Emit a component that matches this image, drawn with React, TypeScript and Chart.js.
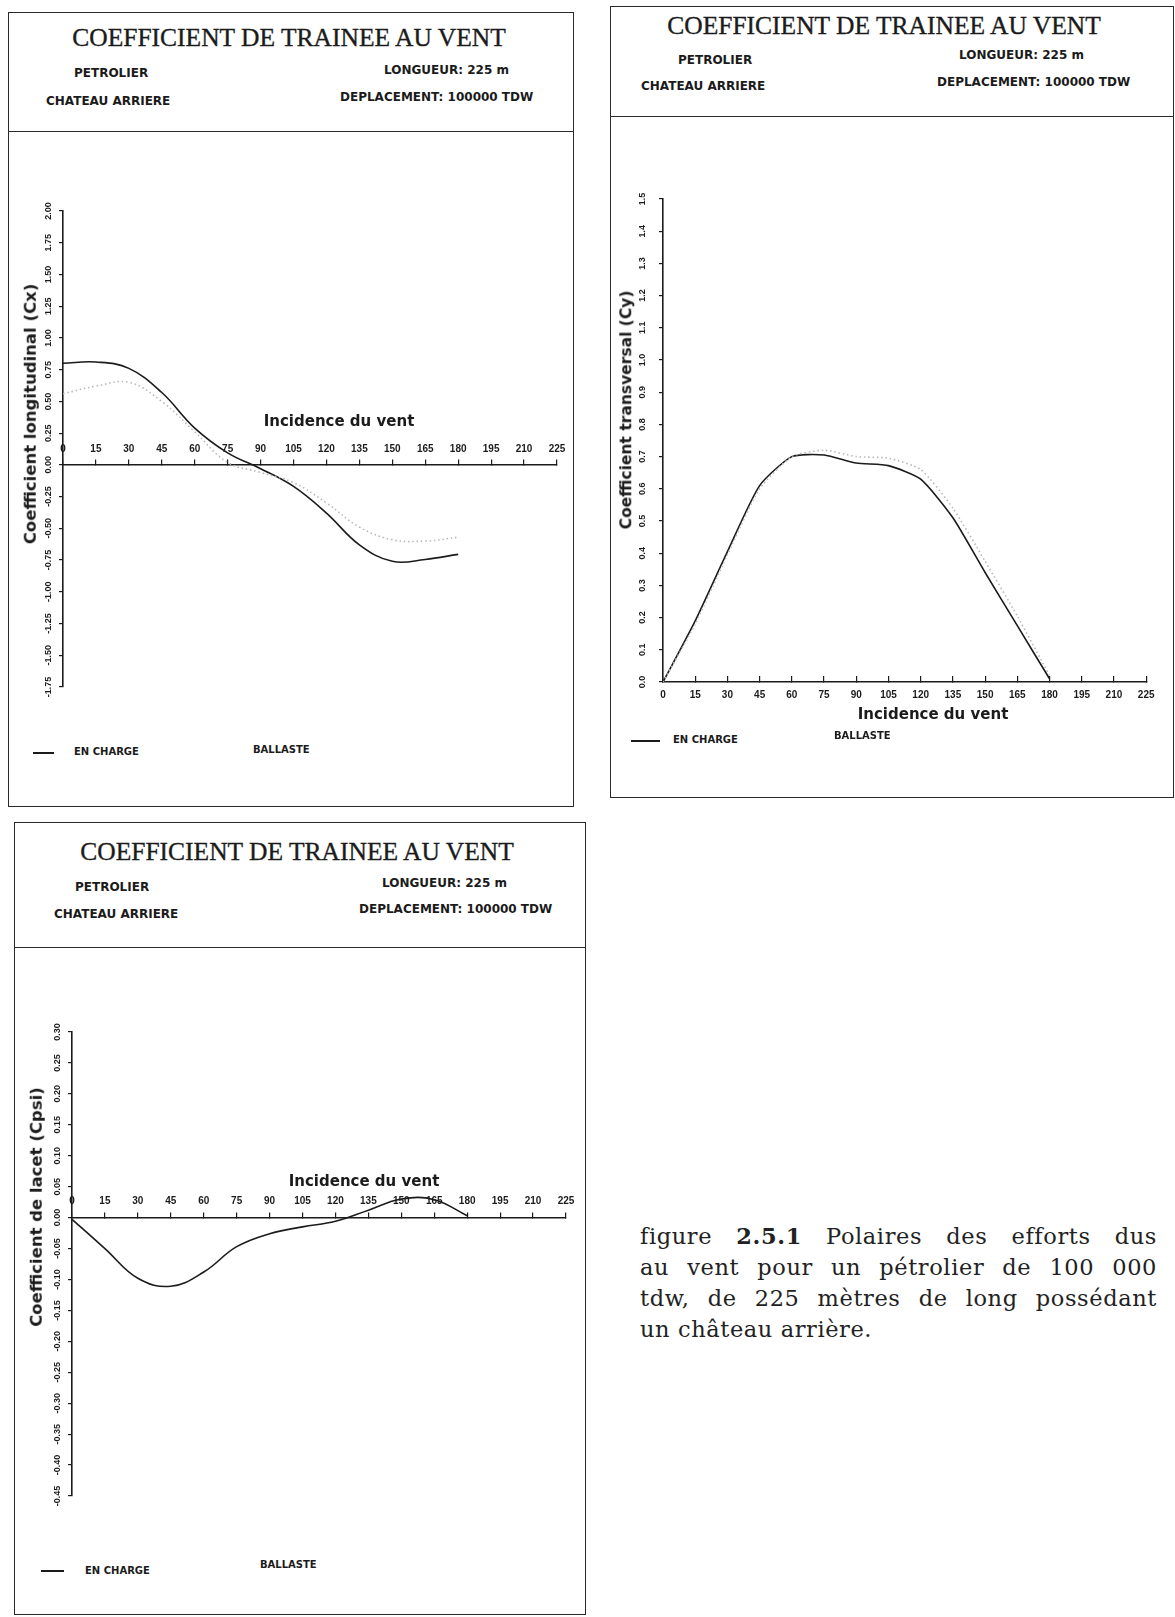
import React, { useEffect, useRef } from "react";
import { Chart, registerables } from "chart.js";

Chart.register(...registerables);

// ---------------- data ----------------
const ANGLES = [0, 15, 30, 45, 60, 75, 90, 105, 120, 135, 150, 165, 180];
const X_TICKS = [0, 15, 30, 45, 60, 75, 90, 105, 120, 135, 150, 165, 180, 195, 210, 225];
const X_TICK_LABELS = ["0", "15", "30", "45", "60", "75", "90", "105", "120", "135", "150", "165", "180", "195", "210", "225"];

const CX_EN_CHARGE = [0.8, 0.81, 0.76, 0.57, 0.29, 0.095, -0.03, -0.17, -0.38, -0.63, -0.76, -0.745, -0.705];
const CX_BALLASTE = [0.56, 0.62, 0.65, 0.5, 0.26, 0.02, -0.06, -0.14, -0.3, -0.49, -0.59, -0.6, -0.57];
const CY_EN_CHARGE = [0.0, 0.19, 0.405, 0.61, 0.7, 0.705, 0.68, 0.672, 0.63, 0.51, 0.34, 0.175, 0.01];
const CY_BALLASTE = [0.0, 0.18, 0.395, 0.6, 0.7, 0.72, 0.7, 0.695, 0.66, 0.54, 0.375, 0.205, 0.02];
const CPSI_EN_CHARGE = [-0.003, -0.05, -0.098, -0.111, -0.088, -0.047, -0.026, -0.015, -0.006, 0.012, 0.03, 0.029, 0.003];

const CX_TICKS = [-1.75, -1.5, -1.25, -1.0, -0.75, -0.5, -0.25, 0, 0.25, 0.5, 0.75, 1.0, 1.25, 1.5, 1.75, 2.0];
const CX_TICK_LABELS = ["-1.75", "-1.50", "-1.25", "-1.00", "-0.75", "-0.50", "-0.25", "0.00", "0.25", "0.50", "0.75", "1.00", "1.25", "1.50", "1.75", "2.00"];
const CY_TICKS = [0, 0.1, 0.2, 0.3, 0.4, 0.5, 0.6, 0.7, 0.8, 0.9, 1.0, 1.1, 1.2, 1.3, 1.4, 1.5];
const CY_TICK_LABELS = ["0.0", "0.1", "0.2", "0.3", "0.4", "0.5", "0.6", "0.7", "0.8", "0.9", "1.0", "1.1", "1.2", "1.3", "1.4", "1.5"];
const CPSI_TICKS = [-0.45, -0.4, -0.35, -0.3, -0.25, -0.2, -0.15, -0.1, -0.05, 0, 0.05, 0.1, 0.15, 0.2, 0.25, 0.3];
const CPSI_TICK_LABELS = ["-0.45", "-0.40", "-0.35", "-0.30", "-0.25", "-0.20", "-0.15", "-0.10", "-0.05", "0.00", "0.05", "0.10", "0.15", "0.20", "0.25", "0.30"];

const TITLE = "COEFFICIENT DE TRAINEE AU VENT";
const SHIP = "PETROLIER";
const SUPER = "CHATEAU ARRIERE";
const LENGTH = "LONGUEUR: 225 m";
const DISPL = "DEPLACEMENT: 100000 TDW";
const X_TITLE = "Incidence du vent";
const LEG_A = "EN CHARGE";
const LEG_B = "BALLASTE";
const CAPTION_LINES = [
  ["figure", "**2.5.1", "Polaires", "des", "efforts", "dus"],
  ["au", "vent", "pour", "un", "pétrolier", "de", "100", "000"],
  ["tdw,", "de", "225", "mètres", "de", "long", "possédant"],
  ["un château arrière."],
];

const INK = "#1b1b1b";
const TICK_FONT = "'Liberation Sans', Arial, sans-serif";

type Series = { label: string; values: number[]; dotted?: boolean };
type PlotSpec = {
  canvas: { left: number; top: number; width: number; height: number };
  padding: { left: number; right: number; top: number; bottom: number };
  yWidth: number;
  xHeight: number;
  yTicks: number[];
  yLabels: string[];
  yLabelOffset: number;
  xAtZero: boolean;
  xLabelPadding: number;
  series: Series[];
  tension: number;
};

function widest(labels: string[], font: string): number {
  const ctx = document.createElement("canvas").getContext("2d");
  if (!ctx) return 20;
  ctx.font = font;
  return Math.max(...labels.map((l) => ctx.measureText(l).width));
}

function buildConfig(spec: PlotSpec): any {
  const ySize = 9;
  const w = widest(spec.yLabels, `bold ${ySize}px ${TICK_FONT}`);
  const yTl = 4;
  const yPad = spec.yLabelOffset - yTl - w / 2;
  return {
    type: "line",
    data: {
      datasets: spec.series.map((s) => ({
        label: s.label,
        data: ANGLES.map((a, i) => ({ x: a, y: s.values[i] })),
        borderColor: s.dotted ? "#b8b8b8" : INK,
        borderWidth: 1.6,
        borderDash: s.dotted ? [1.5, 2.8] : [],
        pointRadius: 0,
        tension: spec.tension,
        fill: false,
      })),
    },
    options: {
      responsive: false,
      animation: false,
      events: [],
      layout: { padding: spec.padding },
      plugins: { legend: { display: false }, tooltip: { enabled: false }, title: { display: false } },
      scales: {
        x: {
          type: "linear",
          position: spec.xAtZero ? { y: 0 } : "bottom",
          min: 0,
          max: 225,
          afterBuildTicks: (scale: any) => {
            scale.ticks = X_TICKS.map((v) => ({ value: v }));
          },
          afterFit: (scale: any) => {
            scale.height = spec.xHeight;
          },
          ticks: {
            autoSkip: false,
            maxRotation: 0,
            minRotation: 0,
            padding: spec.xLabelPadding,
            color: INK,
            font: { family: TICK_FONT, size: 10, weight: "bold" },
            callback: (value: number) => X_TICK_LABELS[X_TICKS.indexOf(value)] ?? "",
          },
          grid: { display: true, drawOnChartArea: false, drawTicks: true, tickLength: -6, color: INK, lineWidth: 1.2 },
          border: { display: true, color: INK, width: 1.6 },
        },
        y: {
          type: "linear",
          position: "left",
          min: spec.yTicks[0],
          max: spec.yTicks[spec.yTicks.length - 1],
          afterBuildTicks: (scale: any) => {
            scale.ticks = spec.yTicks.map((v) => ({ value: v }));
          },
          afterFit: (scale: any) => {
            scale.width = spec.yWidth;
          },
          ticks: {
            autoSkip: false,
            minRotation: 90,
            maxRotation: 90,
            crossAlign: "center",
            padding: yPad,
            color: INK,
            font: { family: TICK_FONT, size: ySize, weight: "bold" },
            callback: (value: number) => spec.yLabels[spec.yTicks.indexOf(value)] ?? "",
          },
          grid: { display: true, drawOnChartArea: false, drawTicks: true, tickLength: yTl, color: INK, lineWidth: 1.2 },
          border: { display: true, color: INK, width: 1.6 },
        },
      },
    },
  };
}

function PlotCanvas({ spec }: { spec: PlotSpec }) {
  const ref = useRef<HTMLCanvasElement | null>(null);
  useEffect(() => {
    if (!ref.current) return;
    const chart = new Chart(ref.current, buildConfig(spec));
    return () => chart.destroy();
  }, []);
  const c = spec.canvas;
  return (
    <canvas
      ref={ref}
      width={c.width}
      height={c.height}
      style={{ position: "absolute", left: c.left, top: c.top, width: c.width, height: c.height }}
    />
  );
}

const sansBold: React.CSSProperties = {
  fontFamily: "'DejaVu Sans', sans-serif",
  fontWeight: "bold",
  color: INK,
  lineHeight: 1,
  whiteSpace: "nowrap",
};

function L({ x, cy, size, children }: { x: number; cy: number; size: number; children: React.ReactNode }) {
  return (
    <div style={{ ...sansBold, position: "absolute", left: x, top: cy, fontSize: size, transform: "translateY(-50%)" }}>
      {children}
    </div>
  );
}

function Cn({ cx, cy, style, children }: { cx: number; cy: number; style: React.CSSProperties; children: React.ReactNode }) {
  return (
    <div style={{ position: "absolute", left: cx, top: cy, transform: "translate(-50%,-50%)", whiteSpace: "nowrap", lineHeight: 1, ...style }}>
      {children}
    </div>
  );
}

function V({ cx, cy, size, children }: { cx: number; cy: number; size: number; children: React.ReactNode }) {
  return (
    <div
      style={{
        ...sansBold,
        position: "absolute",
        left: cx,
        top: cy,
        fontSize: size,
        transform: "translate(-50%,-50%) rotate(-90deg)",
      }}
    >
      {children}
    </div>
  );
}

type PanelLayout = {
  box: { left: number; top: number; width: number; height: number };
  headerLineY: number;
  title: [number, number];
  ship: [number, number];
  sup: [number, number];
  len: [number, number];
  disp: [number, number];
  yTitle: { cx: number; cy: number; size: number; text: string };
  xTitle: [number, number];
  legLine: [number, number, number];
  legA: [number, number];
  legB: [number, number];
  plot: PlotSpec;
};

function Panel({ p }: { p: PanelLayout }) {
  const b = p.box;
  return (
    <>
      <div
        style={{
          position: "absolute",
          left: b.left,
          top: b.top,
          width: b.width,
          height: b.height,
          border: `1.6px solid #2a2a2a`,
          boxSizing: "border-box",
        }}
      />
      <div
        style={{
          position: "absolute",
          left: b.left,
          top: p.headerLineY,
          width: b.width,
          height: 0,
          borderTop: `1.6px solid #2a2a2a`,
        }}
      />
      <Cn
        cx={p.title[0]}
        cy={p.title[1]}
        style={{ fontFamily: "'Liberation Serif', serif", fontSize: 25.5, color: INK, WebkitTextStroke: "0.35px #1b1b1b" }}
      >
        {TITLE}
      </Cn>
      <L x={p.ship[0]} cy={p.ship[1]} size={12}>{SHIP}</L>
      <L x={p.sup[0]} cy={p.sup[1]} size={12}>{SUPER}</L>
      <L x={p.len[0]} cy={p.len[1]} size={12}>{LENGTH}</L>
      <L x={p.disp[0]} cy={p.disp[1]} size={12}>{DISPL}</L>
      <PlotCanvas spec={p.plot} />
      <V cx={p.yTitle.cx} cy={p.yTitle.cy} size={p.yTitle.size}>{p.yTitle.text}</V>
      <Cn cx={p.xTitle[0]} cy={p.xTitle[1]} style={{ ...sansBold, fontSize: 15 }}>{X_TITLE}</Cn>
      <div
        style={{
          position: "absolute",
          left: p.legLine[0],
          top: p.legLine[2] - 1,
          width: p.legLine[1] - p.legLine[0],
          height: 2,
          background: INK,
        }}
      />
      <L x={p.legA[0]} cy={p.legA[1]} size={10}>{LEG_A}</L>
      <L x={p.legB[0]} cy={p.legB[1]} size={10}>{LEG_B}</L>
    </>
  );
}

const PANELS: PanelLayout[] = [
  {
    box: { left: 8, top: 12, width: 566, height: 795 },
    headerLineY: 131,
    title: [289, 38],
    ship: [74, 73],
    sup: [46, 101],
    len: [384, 70],
    disp: [340, 97],
    yTitle: { cx: 31, cy: 414, size: 16.5, text: "Coefficient longitudinal (Cx)" },
    xTitle: [339, 421],
    legLine: [33, 54, 753],
    legA: [74, 752],
    legB: [253, 750],
    plot: {
      canvas: { left: 20, top: 150, width: 550, height: 560 },
      padding: { left: 13, right: 13, top: 61, bottom: 23 },
      yWidth: 30,
      xHeight: 0,
      yTicks: CX_TICKS,
      yLabels: CX_TICK_LABELS,
      yLabelOffset: 14,
      xAtZero: true,
      xLabelPadding: -16,
      tension: 0.4,
      series: [
        { label: LEG_B, values: CX_BALLASTE, dotted: true },
        { label: LEG_A, values: CX_EN_CHARGE },
      ],
    },
  },
  {
    box: { left: 610, top: 6, width: 564, height: 792 },
    headerLineY: 116,
    title: [884, 26],
    ship: [678, 60],
    sup: [641, 86],
    len: [959, 55],
    disp: [937, 82],
    yTitle: { cx: 627, cy: 410, size: 15.5, text: "Coefficient transversal (Cy)" },
    xTitle: [933, 714],
    legLine: [631, 660, 741],
    legA: [673, 740],
    legB: [834, 736],
    plot: {
      canvas: { left: 616, top: 150, width: 552, height: 570 },
      padding: { left: 17, right: 8, top: 49, bottom: 8 },
      yWidth: 30,
      xHeight: 30,
      yTicks: CY_TICKS,
      yLabels: CY_TICK_LABELS,
      yLabelOffset: 20,
      xAtZero: false,
      xLabelPadding: 13.5,
      tension: 0.2,
      series: [
        { label: LEG_B, values: CY_BALLASTE, dotted: true },
        { label: LEG_A, values: CY_EN_CHARGE },
      ],
    },
  },
  {
    box: { left: 14, top: 822, width: 572, height: 793 },
    headerLineY: 947,
    title: [297, 852],
    ship: [75, 887],
    sup: [54, 914],
    len: [382, 883],
    disp: [359, 909],
    yTitle: { cx: 37, cy: 1207, size: 16.5, text: "Coefficient de lacet (Cpsi)" },
    xTitle: [364, 1181],
    legLine: [41, 64, 1571],
    legA: [85, 1571],
    legB: [260, 1565],
    plot: {
      canvas: { left: 24, top: 970, width: 552, height: 550 },
      padding: { left: 18, right: 10, top: 62, bottom: 24 },
      yWidth: 30,
      xHeight: 0,
      yTicks: CPSI_TICKS,
      yLabels: CPSI_TICK_LABELS,
      yLabelOffset: 14,
      xAtZero: true,
      xLabelPadding: -16,
      tension: 0.4,
      series: [{ label: LEG_A, values: CPSI_EN_CHARGE }],
    },
  },
];

function Caption() {
  return (
    <div
      style={{
        position: "absolute",
        left: 640,
        top: 1220,
        width: 517,
        fontFamily: "'DejaVu Serif', serif",
        fontSize: 22.5,
        letterSpacing: 0.6,
        color: "#222222",
      }}
    >
      {CAPTION_LINES.map((words, i) => (
        <div
          key={i}
          style={{
            display: "flex",
            justifyContent: i < CAPTION_LINES.length - 1 ? "space-between" : "flex-start",
            height: 31,
            alignItems: "center",
            whiteSpace: "nowrap",
          }}
        >
          {words.map((w, j) =>
            w.startsWith("**") ? (
              <span key={j} style={{ fontWeight: "bold" }}>{w.slice(2)}</span>
            ) : (
              <span key={j}>{w}</span>
            )
          )}
        </div>
      ))}
    </div>
  );
}

export default function App() {
  return (
    <div
      style={{
        position: "absolute",
        left: 0,
        top: 0,
        width: 1175,
        height: 1617,
        background: "#ffffff",
        overflow: "hidden",
      }}
    >
      {PANELS.map((p, i) => (
        <Panel key={i} p={p} />
      ))}
      <Caption />
    </div>
  );
}
